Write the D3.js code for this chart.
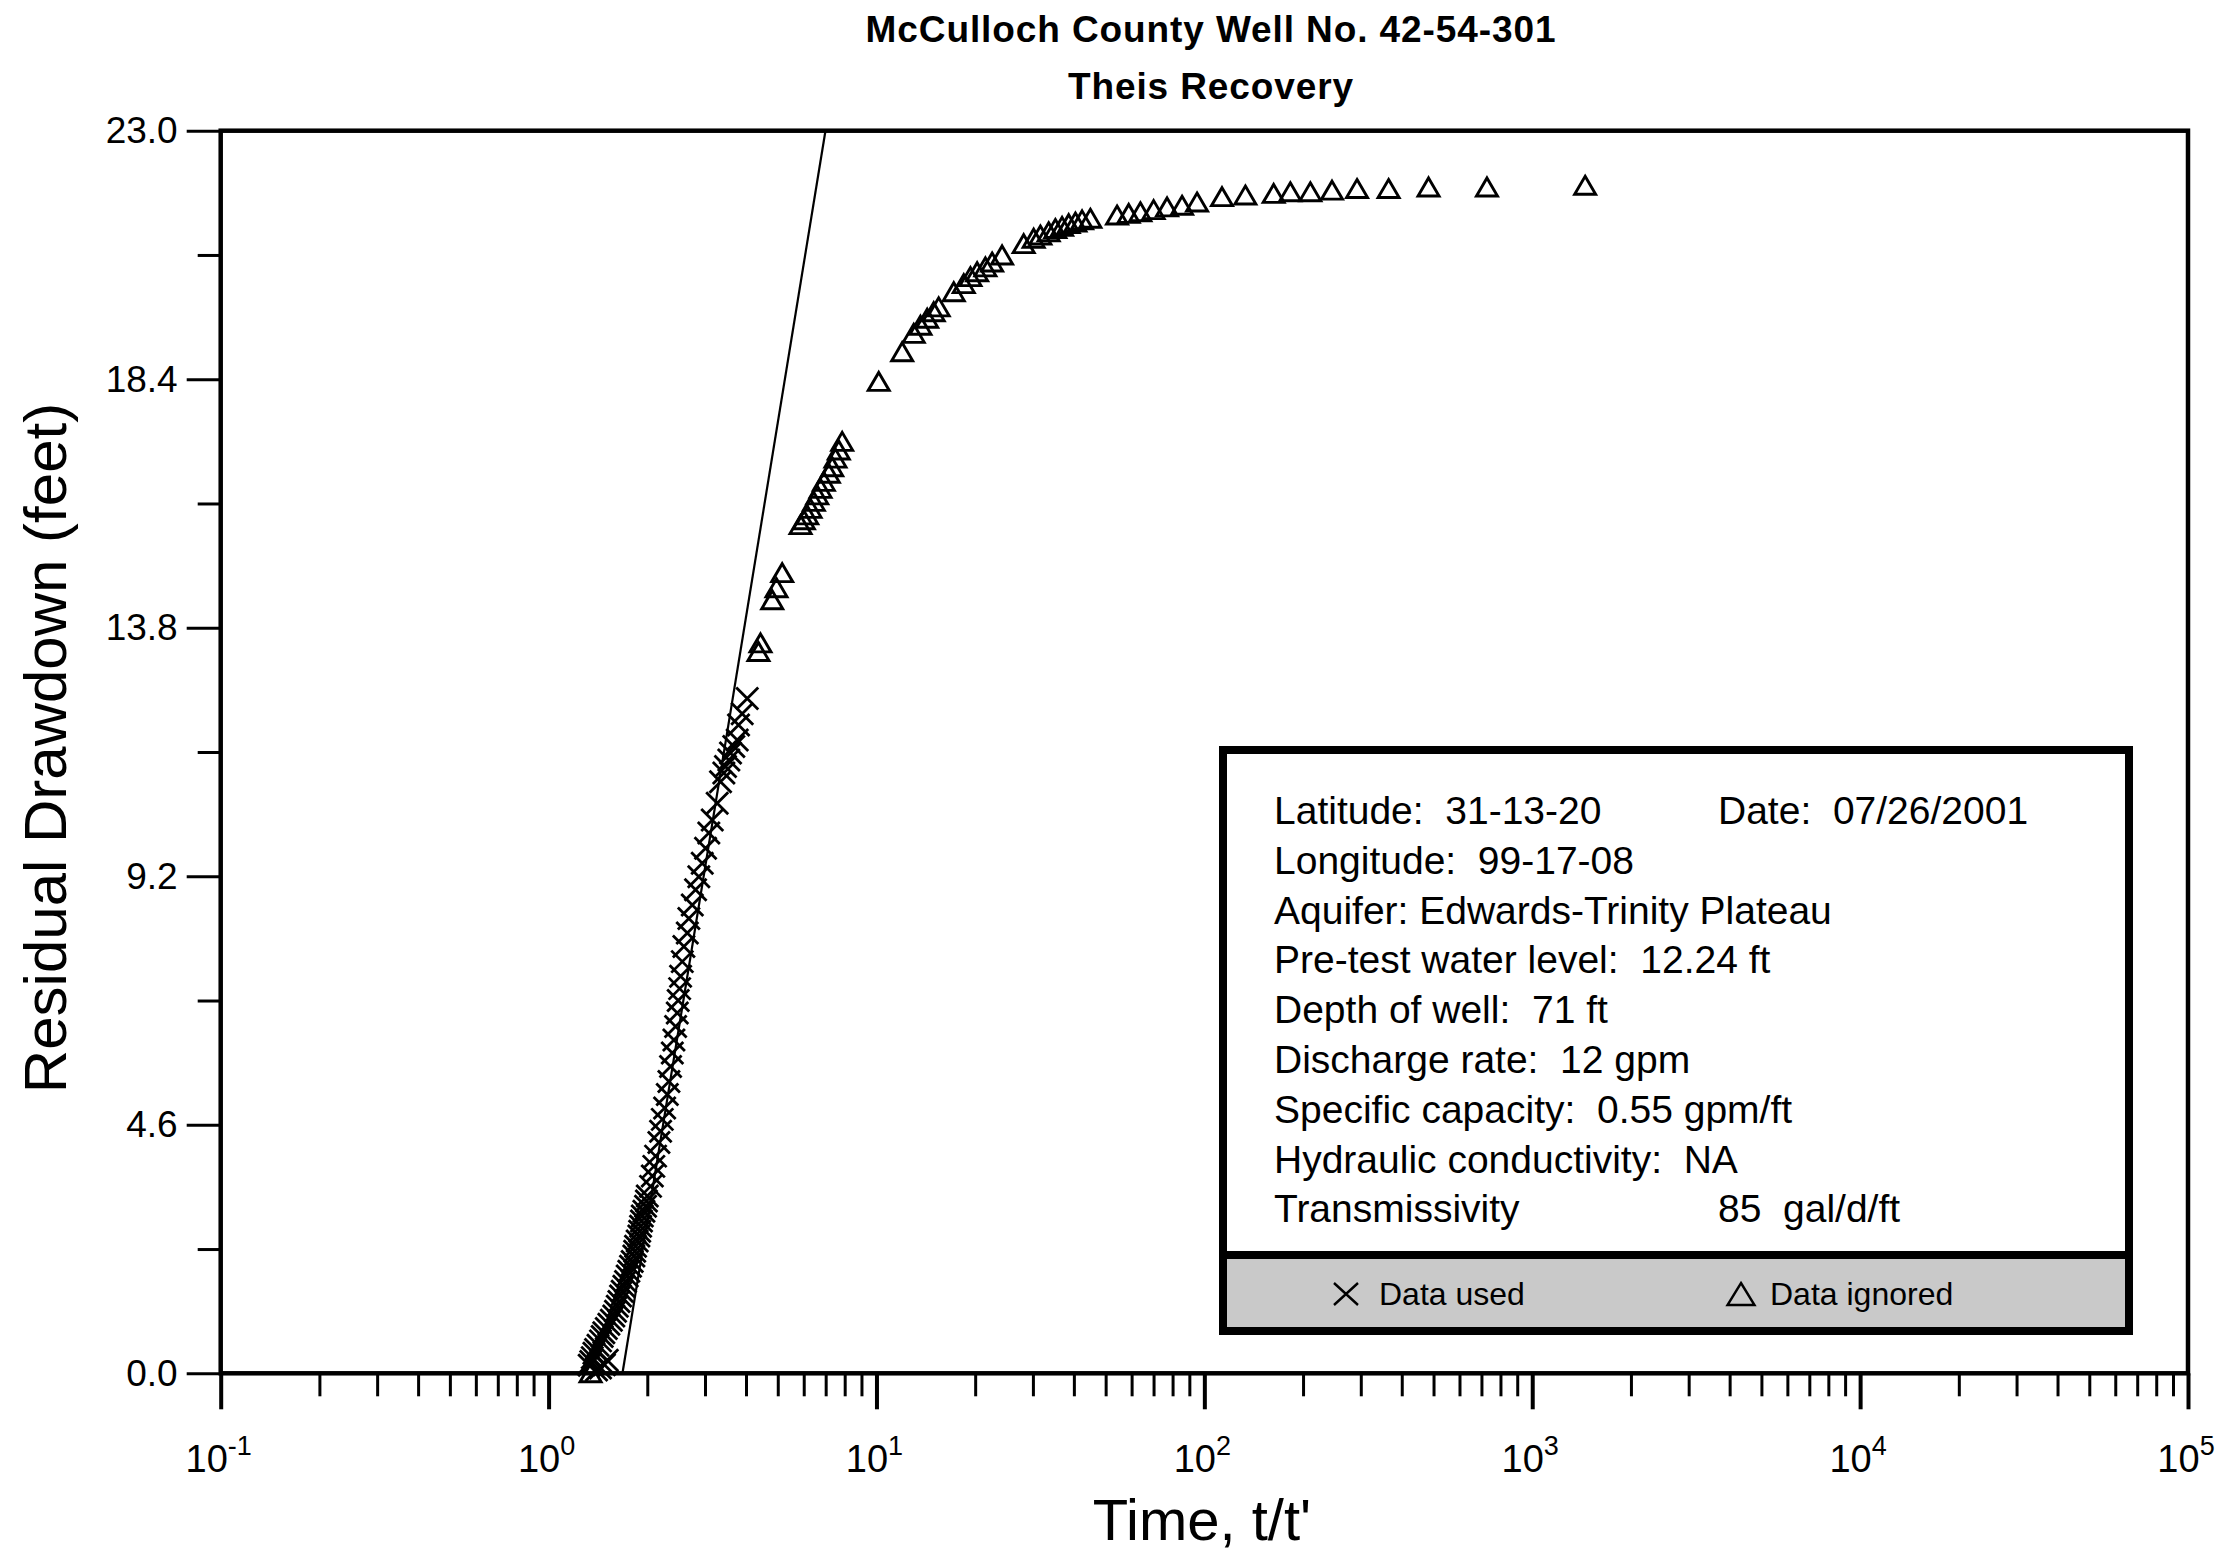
<!DOCTYPE html>
<html><head><meta charset="utf-8">
<script src="https://cdn.jsdelivr.net/npm/d3@7"></script>
<style>
html,body{margin:0;padding:0;background:#fff;}
svg{display:block;}
text{font-family:"Liberation Sans", Arial, Helvetica, sans-serif; fill:#000;}
</style></head><body>
<svg id="chart" width="2231" height="1558"></svg>
<script>
// ---------- data ----------
const titleLines = ["McCulloch County Well No. 42-54-301", "Theis Recovery"];
const xLabel = "Time, t/t'";
const yLabel = "Residual Drawdown (feet)";
const xDecades = [-1, 0, 1, 2, 3, 4, 5];
const yTicks = [0, 4.6, 9.2, 13.8, 18.4, 23.0];
const yMinorTicks = [2.3, 6.9, 11.5, 16.1, 20.7];

// Data used (X markers): t/t' and residual drawdown (ft)
const usedT = [1.40, 1.44, 1.48, 1.51, 1.33, 1.345,
  1.359, 1.375, 1.391, 1.415, 1.440, 1.457, 1.474, 1.500, 1.527, 1.554, 1.581, 1.600, 1.620, 1.639,
  1.658, 1.677, 1.697, 1.717, 1.737, 1.757, 1.778, 1.799, 1.820, 1.831, 1.842, 1.863, 1.885, 1.896,
  1.908, 1.920, 1.931, 1.953, 1.976, 1.988, 2.000, 2.046, 2.072, 2.094, 2.120, 2.170, 2.196, 2.222,
  2.259, 2.302, 2.328, 2.355, 2.384, 2.411, 2.440, 2.469, 2.485, 2.510, 2.527, 2.557, 2.586, 2.649,
  2.678, 2.743, 2.807, 2.872, 2.942, 3.011, 3.081, 3.156, 3.268, 3.345, 3.424, 3.464, 3.546, 3.588,
  3.672, 3.761, 3.796, 3.895, 4.035];
const usedS = [0.06, 0.10, 0.16, 0.24, 0.15, 0.22,
  0.29, 0.37, 0.44, 0.52, 0.60, 0.68, 0.75, 0.83, 0.91, 0.98, 1.06, 1.15, 1.24, 1.33,
  1.43, 1.52, 1.61, 1.70, 1.80, 1.89, 1.98, 2.07, 2.17, 2.26, 2.35, 2.45, 2.54, 2.63,
  2.72, 2.82, 2.91, 3.00, 3.09, 3.19, 3.28, 3.46, 3.65, 3.83, 4.02, 4.27, 4.48, 4.70,
  4.91, 5.16, 5.40, 5.68, 5.93, 6.17, 6.42, 6.67, 6.90, 7.12, 7.35, 7.62, 7.90, 8.15,
  8.42, 8.67, 8.95, 9.19, 9.44, 9.72, 10.00, 10.24, 10.55, 10.95, 11.11, 11.23, 11.35, 11.48,
  11.60, 11.72, 12.00, 12.21, 12.49];

// Data ignored (triangle markers)
const ignoredT = [1.343,
  4.366, 4.429, 4.809, 4.956, 5.158,
  5.868, 6.006, 6.150, 6.295, 6.442, 6.598, 6.752, 6.910, 7.157, 7.329, 7.499, 7.675, 7.860,
  10.16, 11.98, 12.99, 13.62, 14.28, 14.95, 15.48,
  17.21, 18.46, 19.35, 20.28, 21.49, 22.53, 24.16,
  28.12, 30.16, 31.62, 33.51, 35.12, 36.82, 38.57, 40.43, 42.37, 44.91,
  54.17, 58.79, 63.81, 70.03, 76.96, 85.51, 95.0,
  113.2, 133.4, 162.7, 182.9, 210.5, 245.1, 292.2, 364.7, 482.8, 727.7, 1450];
const ignoredS = [0.0,
  13.35, 13.51, 14.31, 14.53, 14.81,
  15.70, 15.79, 15.88, 16.00, 16.13, 16.25, 16.37, 16.50, 16.65, 16.77, 16.93, 17.08, 17.24,
  18.35, 18.90, 19.24, 19.39, 19.52, 19.64, 19.73,
  20.01, 20.16, 20.29, 20.38, 20.47, 20.56, 20.69,
  20.90, 21.00, 21.06, 21.12, 21.18, 21.22, 21.27, 21.30, 21.34, 21.37,
  21.43, 21.46, 21.49, 21.53, 21.58, 21.61, 21.67,
  21.77, 21.80, 21.83, 21.86, 21.86, 21.89, 21.92, 21.92, 21.95, 21.95, 21.98];

// Fitted straight line (Theis recovery)
const fitT = [1.68, 6.99];
const fitS = [0, 23];

const infoLeft = ["Latitude:  31-13-20", "Longitude:  99-17-08", "Aquifer: Edwards-Trinity Plateau",
  "Pre-test water level:  12.24 ft", "Depth of well:  71 ft", "Discharge rate:  12 gpm",
  "Specific capacity:  0.55 gpm/ft", "Hydraulic conductivity:  NA", "Transmissivity"];
const infoRight = ["Date:  07/26/2001", "", "", "", "", "", "", "", "85  gal/d/ft"];
const legendLabels = ["Data used", "Data ignored"];

// ---------- layout ----------
const L = 220.7, R = 2188, T = 130.7, B = 1373.3;
const svg = d3.select("#chart");
const x = d3.scaleLog().domain([0.1, 1e5]).range([L, R]);
const y = d3.scaleLinear().domain([0, 23]).range([B, T]);

// titles
svg.append("text").attr("x", 1211).attr("y", 42).attr("text-anchor", "middle")
  .style("font-size", "37px").style("font-weight", "bold").style("letter-spacing", "0.9px")
  .text(titleLines[0]);
svg.append("text").attr("x", 1211).attr("y", 99).attr("text-anchor", "middle")
  .style("font-size", "37px").style("font-weight", "bold").style("letter-spacing", "0.9px")
  .text(titleLines[1]);

// x axis ticks
const majorVals = xDecades.map(d => Math.pow(10, d));
const minorVals = [];
for (let e = -1; e < 5; e++) for (let m = 2; m <= 9; m++) minorVals.push(m * Math.pow(10, e));

const gxMaj = svg.append("g").attr("transform", `translate(0,${B})`)
  .call(d3.axisBottom(x).tickValues(majorVals).tickSize(36).tickFormat(""));
const gxMin = svg.append("g").attr("transform", `translate(0,${B})`)
  .call(d3.axisBottom(x).tickValues(minorVals).tickSize(23).tickFormat(""));
[gxMaj, gxMin].forEach(g => { g.select(".domain").remove(); g.selectAll("line").attr("stroke", "#000").attr("stroke-width", 3); });
gxMaj.selectAll("line").attr("stroke-width", 4);

// x tick labels with superscripts
xDecades.forEach(d => {
  const t = svg.append("text").attr("x", x(Math.pow(10, d)) - 2).attr("y", 1472)
    .attr("text-anchor", "middle").style("font-size", "38px");
  t.append("tspan").text("10");
  t.append("tspan").attr("dy", -17).style("font-size", "27px").text(String(d));
});

// y axis ticks
const gyMaj = svg.append("g").attr("transform", `translate(${L},0)`)
  .call(d3.axisLeft(y).tickValues(yTicks).tickSize(34).tickPadding(9).tickFormat(d3.format(".1f")));
const gyMin = svg.append("g").attr("transform", `translate(${L},0)`)
  .call(d3.axisLeft(y).tickValues(yMinorTicks).tickSize(23).tickFormat(""));
[gyMaj, gyMin].forEach(g => { g.select(".domain").remove(); g.selectAll("line").attr("stroke", "#000").attr("stroke-width", 3); });
gyMaj.selectAll("text").style("font-size", "37px").style("font-family", '"Liberation Sans", Arial, sans-serif').attr("fill", "#000");

// axis titles
svg.append("text").attr("x", 1202).attr("y", 1540).attr("text-anchor", "middle")
  .style("font-size", "58px").text(xLabel);
svg.append("text").attr("transform", "translate(66,748) rotate(-90)").attr("text-anchor", "middle")
  .style("font-size", "60px").text(yLabel);

// frame
svg.append("rect").attr("x", L).attr("y", T).attr("width", R - L).attr("height", B - T)
  .attr("fill", "none").attr("stroke", "#000").attr("stroke-width", 4.5);

// fitted line
svg.append("line").attr("x1", x(fitT[0])).attr("y1", y(fitS[0])).attr("x2", x(fitT[1])).attr("y2", y(fitS[1]))
  .attr("stroke", "#000").attr("stroke-width", 2.2);

// markers
const xPath = "M-11,-11L11,11M-11,11L11,-11";
const triPath = "M0,-9.5L10.5,8.5L-10.5,8.5Z";
const usedData = usedT.map((t, i) => ({ t, s: usedS[i] }));
const ignData = ignoredT.map((t, i) => ({ t, s: ignoredS[i] }));

svg.append("g").selectAll("path").data(ignData).join("path")
  .attr("d", triPath).attr("transform", d => `translate(${x(d.t)},${y(d.s)})`)
  .attr("fill", "none").attr("stroke", "#000").attr("stroke-width", 2.9);
svg.append("g").selectAll("path").data(usedData).join("path")
  .attr("d", xPath).attr("transform", d => `translate(${x(d.t)},${y(d.s)})`)
  .attr("fill", "none").attr("stroke", "#000").attr("stroke-width", 2.8);

// info box
const box = svg.append("g");
box.append("rect").attr("x", 1223).attr("y", 750).attr("width", 906).attr("height", 581)
  .attr("fill", "#fff").attr("stroke", "none");
box.append("rect").attr("x", 1227).attr("y", 1259).attr("width", 898).attr("height", 68)
  .attr("fill", "#c9c9c9");
box.append("rect").attr("x", 1223).attr("y", 750).attr("width", 906).attr("height", 581)
  .attr("fill", "none").attr("stroke", "#000").attr("stroke-width", 8);
box.append("line").attr("x1", 1219).attr("x2", 2133).attr("y1", 1255).attr("y2", 1255)
  .attr("stroke", "#000").attr("stroke-width", 8);

infoLeft.forEach((s, i) => {
  box.append("text").attr("x", 1274).attr("y", 824 + i * 49.8).style("font-size", "39px")
    .style("white-space", "pre").text(s);
});
infoRight.forEach((s, i) => {
  if (!s) return;
  box.append("text").attr("x", 1718).attr("y", 824 + i * 49.8).style("font-size", "39px")
    .style("white-space", "pre").text(s);
});

// legend row
box.append("path").attr("d", "M-12,-11L12,11M-12,11L12,-11").attr("transform", "translate(1346,1294)")
  .attr("fill", "none").attr("stroke", "#000").attr("stroke-width", 2.4);
box.append("text").attr("x", 1379).attr("y", 1305).style("font-size", "32px").text(legendLabels[0]);
box.append("path").attr("d", "M0,-11L13.5,11L-13.5,11Z").attr("transform", "translate(1741,1294)")
  .attr("fill", "none").attr("stroke", "#000").attr("stroke-width", 2.4);
box.append("text").attr("x", 1770).attr("y", 1305).style("font-size", "32px").text(legendLabels[1]);
</script>
</body></html>
